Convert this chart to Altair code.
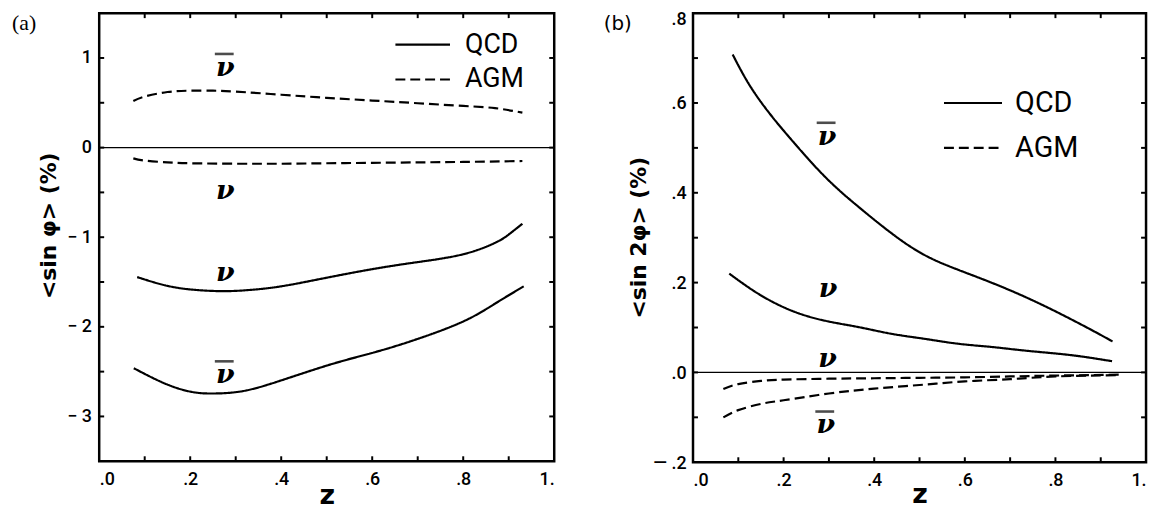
import altair as alt
import pandas as pd

# ---------------- Panel (a): <sin phi> (%) ----------------
A_QCD_NU_Z = [0.0835, 0.145, 0.203, 0.269, 0.327, 0.40, 0.50, 0.603, 0.697, 0.80, 0.871, 0.90, 0.93]
A_QCD_NU_V = [-1.445, -1.537, -1.584, -1.602, -1.59, -1.548, -1.452, -1.354, -1.28, -1.19, -1.06, -0.97, -0.85]

A_QCD_NUBAR_Z = [0.076, 0.145, 0.203, 0.25, 0.305, 0.378, 0.50, 0.603, 0.697, 0.80, 0.871, 0.933]
A_QCD_NUBAR_V = [-2.462, -2.634, -2.726, -2.744, -2.726, -2.634, -2.433, -2.287, -2.14, -1.94, -1.738, -1.548]

A_AGM_NUBAR_Z = [0.075, 0.10, 0.15, 0.20, 0.25, 0.30, 0.40, 0.50, 0.60, 0.70, 0.80, 0.87, 0.93]
A_AGM_NUBAR_V = [0.52, 0.57, 0.62, 0.635, 0.635, 0.625, 0.59, 0.555, 0.525, 0.495, 0.465, 0.44, 0.39]

A_AGM_NU_Z = [0.075, 0.10, 0.15, 0.20, 0.30, 0.40, 0.50, 0.60, 0.70, 0.80, 0.93]
A_AGM_NU_V = [-0.12, -0.145, -0.165, -0.175, -0.18, -0.18, -0.175, -0.17, -0.165, -0.16, -0.15]

A_LABEL_Z = [0.277, 0.277, 0.277, 0.277]
A_LABEL_V = [0.89, -0.49, -1.405, -2.54]
A_LABEL_BAR = [True, False, False, True]

A_LEG_MODEL = ["QCD", "AGM"]
A_LEG_Z1 = [0.651, 0.651]
A_LEG_Z2 = [0.771, 0.771]
A_LEG_V = [1.148, 0.76]
A_LEG_TZ = [0.804, 0.804]

A_XTICKS = [0.1, 0.2, 0.3, 0.4, 0.5, 0.6, 0.7, 0.8, 0.9]
A_YTICKS = [-3.0, -2.5, -2.0, -1.5, -1.0, -0.5, 0.0, 0.5, 1.0]

# ---------------- Panel (b): <sin 2phi> (%) ----------------
B_QCD_NUBAR_Z = [0.0875, 0.124, 0.168, 0.219, 0.292, 0.365, 0.438, 0.51, 0.584, 0.656, 0.729, 0.802, 0.875, 0.926]
B_QCD_NUBAR_V = [0.708, 0.641, 0.578, 0.516, 0.435, 0.369, 0.31, 0.262, 0.229, 0.201, 0.17, 0.135, 0.097, 0.069]

B_QCD_NU_Z = [0.080, 0.146, 0.219, 0.292, 0.365, 0.438, 0.51, 0.584, 0.656, 0.729, 0.802, 0.861, 0.925]
B_QCD_NU_V = [0.22, 0.174, 0.137, 0.115, 0.101, 0.086, 0.075, 0.064, 0.057, 0.049, 0.042, 0.035, 0.025]

B_AGM_NU_Z = [0.067, 0.10, 0.15, 0.20, 0.30, 0.40, 0.50, 0.60, 0.70, 0.80, 0.944]
B_AGM_NU_V = [-0.037, -0.026, -0.019, -0.016, -0.014, -0.013, -0.012, -0.011, -0.009, -0.007, -0.005]

B_AGM_NUBAR_Z = [0.067, 0.10, 0.15, 0.20, 0.30, 0.40, 0.50, 0.60, 0.70, 0.80, 0.944]
B_AGM_NUBAR_V = [-0.10, -0.084, -0.07, -0.062, -0.047, -0.036, -0.028, -0.02, -0.015, -0.009, -0.006]

B_LABEL_Z = [0.296, 0.298, 0.297, 0.293]
B_LABEL_V = [0.525, 0.185, 0.03, -0.118]
B_LABEL_BAR = [True, False, False, True]

B_LEG_MODEL = ["QCD", "AGM"]
B_LEG_Z1 = [0.554, 0.554]
B_LEG_Z2 = [0.682, 0.682]
B_LEG_V = [0.6, 0.5]
B_LEG_TZ = [0.711, 0.711]

B_XTICKS = [0.1, 0.2, 0.3, 0.4, 0.5, 0.6, 0.7, 0.8, 0.9]
B_YTICKS = [-0.1, 0.0, 0.1, 0.2, 0.3, 0.4, 0.5, 0.6, 0.7]

W_A, H_A = 459, 452
W_B, H_B = 457, 453

DASH = alt.Scale(domain=["QCD", "AGM"], range=[[1, 0], [10, 5]])
XLAB = "datum.value == 1 ? '1.' : replace(format(datum.value, '.1f'), '0.', '.')"


def curves(parts):
    rows = []
    for name, model, zs, vs in parts:
        for z, v in zip(zs, vs):
            rows.append({"z": z, "v": v, "curve": name, "model": model})
    return pd.DataFrame(rows)


def panel(df, lab, leg, xt, yt, X, Y, xscale, W, H, letter, letter_font, letter_size, letter_dx, letter_dy, leg_size):
    zero = alt.Chart(pd.DataFrame({"v": [0.0]})).mark_rule(color="black", strokeWidth=1.2).encode(y=Y)
    lines = alt.Chart(df).mark_line(color="black", strokeWidth=2.2, interpolate="natural").encode(
        x=X, y=Y, detail="curve:N",
        strokeDash=alt.StrokeDash("model:N", scale=DASH, legend=None),
    )
    xt_df = pd.DataFrame({"z": xt})
    yt_df = pd.DataFrame({"v": yt})
    t_top = alt.Chart(xt_df).mark_rule(color="black", strokeWidth=2).encode(x=X, y=alt.value(0), y2=alt.value(5))
    t_bot = alt.Chart(xt_df).mark_rule(color="black", strokeWidth=2).encode(x=X, y=alt.value(H), y2=alt.value(H - 5))
    t_left = alt.Chart(yt_df).mark_rule(color="black", strokeWidth=2).encode(y=Y, x=alt.value(0), x2=alt.value(5))
    t_right = alt.Chart(yt_df).mark_rule(color="black", strokeWidth=2).encode(y=Y, x=alt.value(W), x2=alt.value(W - 5))
    labels = alt.Chart(lab).mark_text(
        text="ν", font="DejaVu Serif", fontStyle="italic", fontWeight="bold", fontSize=27,
        align="center", baseline="middle", color="black"
    ).encode(x=X, y=Y)
    bars = alt.Chart(lab[lab["bar"]]).mark_tick(
        orient="horizontal", color="black", size=19, thickness=2.6, xOffset=-1, yOffset=-14
    ).encode(x=X, y=Y)
    leg_lines = alt.Chart(leg).mark_rule(color="black", strokeWidth=2.2).encode(
        x=alt.X("z1:Q", scale=xscale), x2="z2:Q", y=Y,
        strokeDash=alt.StrokeDash("model:N", scale=DASH, legend=None),
    )
    leg_text = alt.Chart(leg).mark_text(
        font="Roboto", fontSize=leg_size, align="left", baseline="middle", color="black"
    ).encode(x=alt.X("tz:Q", scale=xscale), y=Y, text="model:N")
    letter_mark = alt.Chart(pd.DataFrame({"t": [letter]})).mark_text(
        font=letter_font, fontSize=letter_size, align="left", baseline="middle", color="black"
    ).encode(x=alt.value(letter_dx), y=alt.value(letter_dy), text="t:N")
    return alt.layer(zero, lines, t_top, t_bot, t_left, t_right, labels, bars, leg_lines, leg_text,
                     letter_mark).properties(width=W, height=H)


common_axis = dict(domain=False, ticks=False, tickSize=0, grid=False, labelFont="Roboto", labelFontSize=18,
                   labelFontWeight=500, labelColor="black", titleColor="black")

# ----- panel a -----
df_a = curves([
    ("qcd_nu", "QCD", A_QCD_NU_Z, A_QCD_NU_V),
    ("qcd_nubar", "QCD", A_QCD_NUBAR_Z, A_QCD_NUBAR_V),
    ("agm_nubar", "AGM", A_AGM_NUBAR_Z, A_AGM_NUBAR_V),
    ("agm_nu", "AGM", A_AGM_NU_Z, A_AGM_NU_V),
])
lab_a = pd.DataFrame({"z": A_LABEL_Z, "v": A_LABEL_V, "bar": A_LABEL_BAR})
leg_a = pd.DataFrame({"model": A_LEG_MODEL, "z1": A_LEG_Z1, "z2": A_LEG_Z2, "v": A_LEG_V, "tz": A_LEG_TZ})

XS_A = alt.Scale(domain=[0, 1], nice=False, zero=False)
X_A = alt.X("z:Q", scale=XS_A,
            axis=alt.Axis(values=[0, 0.2, 0.4, 0.6, 0.8, 1.0], labelExpr=XLAB, labelPadding=9,
                          title="z", titleFont="DejaVu Sans", titleFontSize=27, titleFontWeight="bold",
                          titleBaseline="alphabetic", titleY=43, **common_axis))
Y_A = alt.Y("v:Q", scale=alt.Scale(domain=[-3.5, 1.5], nice=False, zero=False),
            axis=alt.Axis(values=[-3, -2, -1, 0, 1],
                          labelExpr="datum.value < 0 ? '− ' + format(-datum.value, 'd') : format(datum.value, 'd')",
                          labelPadding=8, title="<sin φ> (%)", titleFont="DejaVu Sans", titleFontSize=22,
                          titleFontWeight="bold", titleX=-39, titleY=214, **common_axis))

chart_a = panel(df_a, lab_a, leg_a, A_XTICKS, A_YTICKS, X_A, Y_A, XS_A, W_A, H_A,
                "(a)", "Liberation Serif", 22, -88, 10, 27)

# ----- panel b -----
df_b = curves([
    ("qcd_nubar", "QCD", B_QCD_NUBAR_Z, B_QCD_NUBAR_V),
    ("qcd_nu", "QCD", B_QCD_NU_Z, B_QCD_NU_V),
    ("agm_nu", "AGM", B_AGM_NU_Z, B_AGM_NU_V),
    ("agm_nubar", "AGM", B_AGM_NUBAR_Z, B_AGM_NUBAR_V),
])
lab_b = pd.DataFrame({"z": B_LABEL_Z, "v": B_LABEL_V, "bar": B_LABEL_BAR})
leg_b = pd.DataFrame({"model": B_LEG_MODEL, "z1": B_LEG_Z1, "z2": B_LEG_Z2, "v": B_LEG_V, "tz": B_LEG_TZ})

XS_B = alt.Scale(domain=[0, 1], nice=False, zero=False)
X_B = alt.X("z:Q", scale=XS_B,
            axis=alt.Axis(values=[0, 0.2, 0.4, 0.6, 0.8, 1.0], labelExpr=XLAB, labelPadding=9,
                          title="z", titleFont="DejaVu Sans", titleFontSize=27, titleFontWeight="bold",
                          titleBaseline="alphabetic", titleY=41, **common_axis))
Y_B = alt.Y("v:Q", scale=alt.Scale(domain=[-0.2, 0.8], nice=False, zero=False),
            axis=alt.Axis(values=[-0.2, 0, 0.2, 0.4, 0.6, 0.8],
                          labelExpr="datum.value < 0 ? '— ' + replace(format(-datum.value, '.1f'), '0.', '.') : replace(format(datum.value, '.1f'), '0.', '.')",
                          labelPadding=7,
                          labelBaseline={"condition": {"test": "datum.value > 0.75", "value": "top"}, "value": "middle"},
                          labelOffset={"condition": {"test": "datum.value > 0.75", "value": -3}, "value": 1},
                          title="<sin 2φ> (%)", titleFont="DejaVu Sans", titleFontSize=22,
                          titleFontWeight="bold", titleX=-43, titleY=226, **common_axis))

chart_b = panel(df_b, lab_b, leg_b, B_XTICKS, B_YTICKS, X_B, Y_B, XS_B, W_B, H_B,
                "(b)", "DejaVu Sans", 20, -90, 11, 29)

chart = alt.hconcat(chart_a, chart_b, spacing=140, bounds="flush").properties(
    padding={"left": 2, "top": -2, "right": 2, "bottom": 0}
).configure_view(stroke="black", strokeWidth=2.5)

chart.save("out.html", embed_options={"renderer": "svg", "actions": False})
